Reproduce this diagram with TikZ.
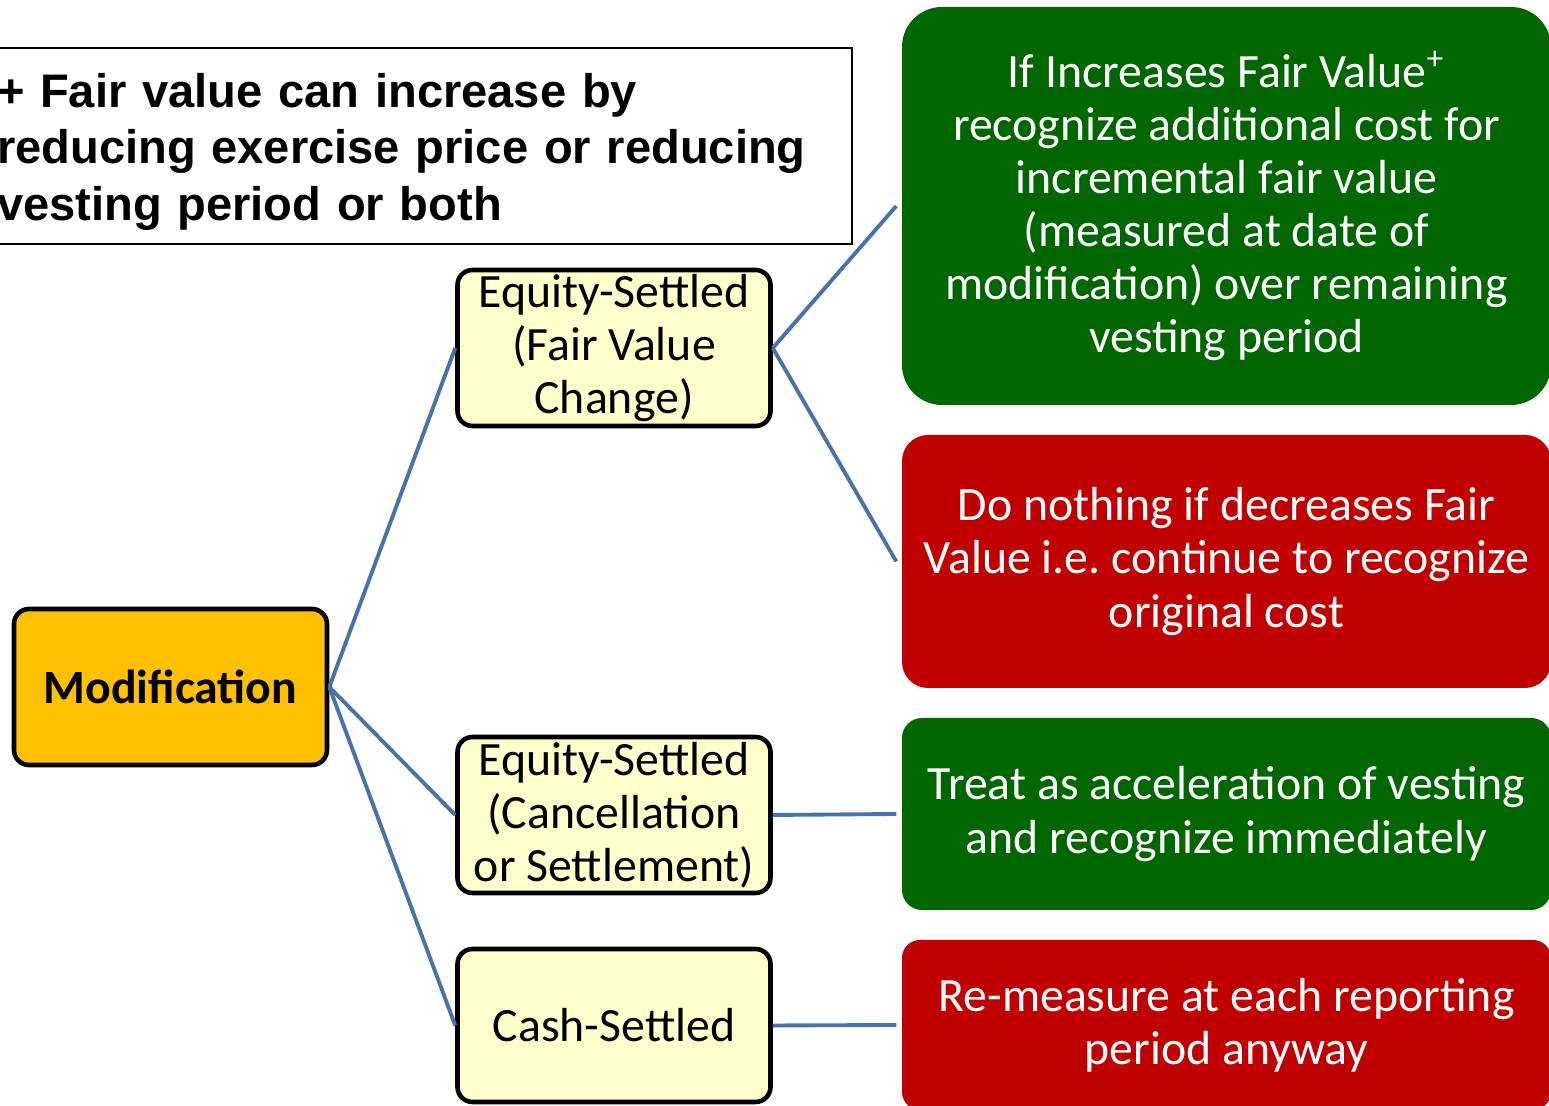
\documentclass[tikz,border=0pt]{standalone}
\usepackage{fontspec}
\setmainfont{Carlito}
\newfontfamily\notefont{Liberation Sans}
\usetikzlibrary{positioning, calc}
\definecolor{modorange}{RGB}{255, 192, 0}
\definecolor{typeyellow}{RGB}{255, 255, 204}
\definecolor{rulegreen}{RGB}{0, 102, 0}
\definecolor{rulered}{RGB}{192, 0, 0}
\definecolor{linkblue}{RGB}{72, 114, 170}
\frenchspacing

\begin{document}
\begin{tikzpicture}[
    block/.style={rectangle, rounded corners=0.15cm, draw=black, line width=1.3pt, minimum width=3.13cm, minimum height=1.56cm, inner sep=0pt, align=center, font=\fontsize{13.6}{15.1}\selectfont},
    result/.style={rectangle, inner sep=0pt, minimum width=6.49cm, align=center, text=white, font=\fontsize{13.6}{15.1}\selectfont},
    link/.style={draw=linkblue, line width=1.1pt}
]
\useasboundingbox (0,0) rectangle (15.49,11.06);
\clip (0,0) rectangle (15.49,11.06);

% Note box
\node[draw=black, line width=0.6pt, minimum width=8.72cm, minimum height=1.96cm, inner xsep=0.17cm, text width=8.38cm, align=left, font=\notefont\bfseries\fontsize{13.4}{16.2}\selectfont] (note) at (4.16,9.60) {\rule{0pt}{0.46cm}+ Fair value can increase by\\reducing exercise price or reducing\\vesting period or both};

% Root
\node[block, fill=modorange, font=\bfseries\fontsize{13.6}{15.1}\selectfont] (mod) at (1.705,4.19) {Modification};

% Types
\node[block, fill=typeyellow] (eqfv) at (6.14,7.58) {Equity-Settled\\(Fair Value\\Change)};
\node[block, fill=typeyellow] (eqcan) at (6.14,2.91) {Equity-Settled\\(Cancellation\\or Settlement)};
\node[block, fill=typeyellow, minimum height=1.53cm] (cash) at (6.14,0.805) {Cash-Settled};

% Outcomes
\node[result, fill=rulegreen, rounded corners=0.4cm, minimum height=3.98cm] (incr) at (12.265,9.00) {If Increases Fair Value\textsuperscript{+}\\recognize additional cost for\\incremental fair value\\(measured at date of\\modification) over remaining\\vesting period};
\node[result, fill=rulered, rounded corners=0.26cm, minimum height=2.53cm] (decr) at (12.265,5.445) {Do nothing if decreases Fair\\Value i.e. continue to recognize\\original cost};
\node[result, fill=rulegreen, rounded corners=0.2cm, minimum height=1.92cm] (accel) at (12.265,2.92) {Treat as acceleration of vesting\\and recognize immediately};
\node[result, fill=rulered, rounded corners=0.18cm, minimum height=1.70cm] (remeas) at (12.265,0.81) {Re-measure at each reporting\\period anyway};

% Connectors
\draw[link] (mod.east) -- (eqfv.west);
\draw[link] (mod.east) -- (eqcan.west);
\draw[link] (mod.east) -- (cash.west);
\draw[link] (eqfv.east) -- ([xshift=-0.05cm]incr.west);
\draw[link] (eqfv.east) -- ([xshift=-0.05cm]decr.west);
\draw[link] (eqcan.east) -- ([xshift=-0.05cm]accel.west);
\draw[link] (cash.east) -- ([xshift=-0.05cm]remeas.west);
\end{tikzpicture}
\end{document}
